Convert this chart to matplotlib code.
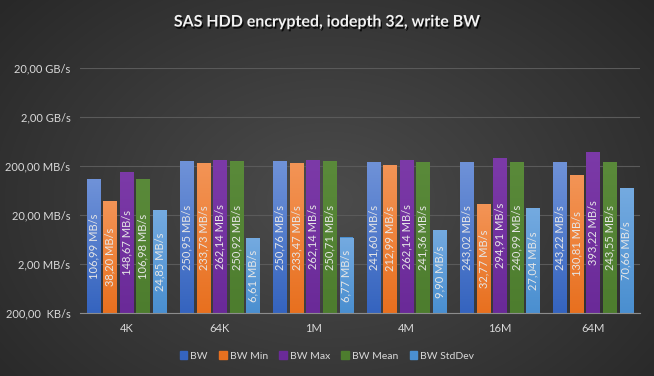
import numpy as np
import matplotlib
matplotlib.use("Agg")
import matplotlib.pyplot as plt
import matplotlib.patheffects as pe
from matplotlib.colors import LinearSegmentedColormap
from matplotlib.patches import Patch

plt.rcParams['font.family'] = ['Lato', 'DejaVu Sans']

# data (MB/s)
categories = ["4K", "64K", "1M", "4M", "16M", "64M"]
series_names = ["BW", "BW Min", "BW Max", "BW Mean", "BW StdDev"]
bw = [106.99, 250.95, 250.76, 241.60, 243.02, 243.22]
bw_min = [38.20, 233.73, 233.47, 212.99, 32.77, 130.81]
bw_max = [148.67, 262.14, 262.14, 262.14, 294.91, 393.22]
bw_mean = [106.98, 250.92, 250.71, 241.36, 240.99, 243.55]
bw_std = [24.85, 6.61, 6.77, 9.90, 27.04, 70.66]
tick_vals = [0.2, 2, 20, 200, 2000, 20000]
tick_labels = ["200,00  KB/s", "2,00 MB/s", "20,00 MB/s", "200,00 MB/s", "2,00 GB/s", "20,00 GB/s"]

series = [bw, bw_min, bw_max, bw_mean, bw_std]
# (top colour, bottom colour) of each bar gradient
colors = [("#6f92d8", "#3564bf"),
          ("#f39456", "#e8701f"),
          ("#7c3aa8", "#6a2a98"),
          ("#5a8a3a", "#4d7d2e"),
          ("#74aae0", "#4a8fd0")]

ymin, ymax = 0.2, 20000

fig = plt.figure(figsize=(6.54, 3.76), dpi=100)

# radial background
bg = fig.add_axes([0, 0, 1, 1])
yy, xx = np.mgrid[0:376, 0:654]
r = np.sqrt(((xx - 327) / 430) ** 2 + ((yy - 200) / 310) ** 2)
r = np.clip(r, 0, 1)
bgcmap = LinearSegmentedColormap.from_list("bg", ["#4c4c4c", "#282828"])
bg.imshow(r, cmap=bgcmap, aspect="auto", extent=[0, 1, 0, 1], vmin=0, vmax=1)
bg.set_axis_off()

ax = fig.add_axes([80 / 654, 1 - 313 / 376, 560 / 654, 245 / 376])
ax.set_facecolor("none")
ax.set_yscale("log")
ax.set_ylim(ymin, ymax)
ax.set_xlim(-0.5, len(categories) - 0.5)

x = np.arange(len(categories))
step = 0.177
width = 0.147
lmin = np.log10(ymin)
span = np.log10(ymax) - lmin

for i, (vals, name, (ctop, cbot)) in enumerate(zip(series, series_names, colors)):
    pos = x + (i - 2) * step
    bars = ax.bar(pos, vals, width=width, bottom=ymin, color=cbot, zorder=3,
                  linewidth=0)
    cmap = LinearSegmentedColormap.from_list("g%d" % i, [cbot, ctop])
    for b, v, p in zip(bars, vals, pos):
        ftop = (np.log10(v) - lmin) / span
        x0 = (p - width / 2 + 0.5) / len(categories)
        x1 = (p + width / 2 + 0.5) / len(categories)
        grad = np.linspace(0, 1, 64).reshape(-1, 1)
        im = ax.imshow(grad, cmap=cmap, origin="lower", aspect="auto",
                       extent=[x0, x1, 0, ftop], transform=ax.transAxes,
                       zorder=4)
        im.set_clip_path(b)
        yc = 10 ** ((np.log10(v) + lmin) / 2)
        ax.text(p, yc, ("%.2f" % v).replace(".", ",") + " MB/s",
                rotation=90, ha="center", va="center", fontsize=8,
                color="#e6e6e6", zorder=5)

ax.set_yticks(tick_vals)
ax.set_yticklabels(tick_labels)
ax.minorticks_off()
ax.set_xticks(x)
ax.set_xticklabels(categories)
ax.tick_params(axis="both", length=0, colors="#d9d9d9", labelsize=8)
ax.tick_params(axis="y", pad=7)
ax.tick_params(axis="x", pad=7)
ax.grid(axis="y", color="#5a5a5a", linewidth=0.8, zorder=0)
for s in ["top", "right", "left"]:
    ax.spines[s].set_visible(False)
ax.spines["bottom"].set_color("#8c8c8c")
ax.spines["bottom"].set_zorder(6)

fig.text(0.5, 0.94, "SAS HDD encrypted, iodepth 32, write BW", ha="center",
         va="center", fontsize=11.5, fontweight="bold", color="#f2f2f2",
         path_effects=[pe.withSimplePatchShadow(offset=(1, -1.5), alpha=0.8,
                                                shadow_rgbFace="black")])

handles = [Patch(color=c[1], label=n) for n, c in zip(series_names, colors)]
fig.legend(handles=handles, loc="center", bbox_to_anchor=(0.5, 1 - 356 / 376),
           ncol=5, frameon=False, fontsize=7.5, labelcolor="#d9d9d9",
           handlelength=0.7, handleheight=0.7, handletextpad=0.3,
           columnspacing=1.1)

fig.savefig("out.png", dpi=100)
